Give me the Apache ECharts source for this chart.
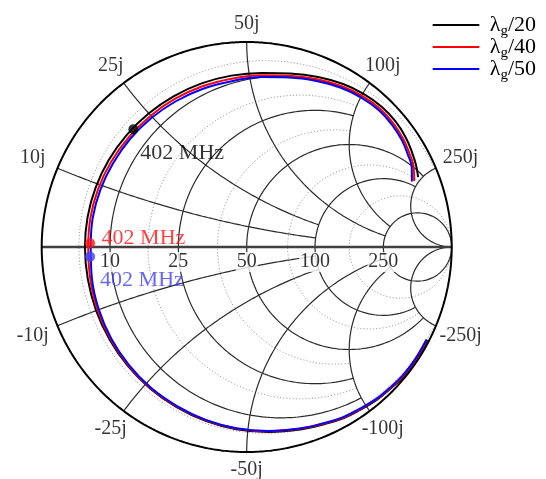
<!DOCTYPE html>
<html>
<head>
<meta charset="utf-8">
<script src="https://cdn.jsdelivr.net/npm/echarts@6/dist/echarts.min.js"></script>
<style>html,body{margin:0;padding:0;background:#fff}#c{width:546px;height:479px}</style>
</head>
<body>
<div id="c"></div>
<script>
// ---------------- data ----------------
const Z0 = 50; // ohm
const majorTicks = [0.2, 0.5, 1, 2, 5];                 // normalized (10, 25, 50, 100, 250 ohm)
const majorResLimit = [2, 2, 5, 5, Infinity];           // |x| where each r circle stops
const majorReactLimit = [2, 2, 5, 5, Infinity];         // r where each x arc stops
const minorRes = [0.1, 0.35, 0.75, 1.5, 3];
const minorResLimit = [5, 2, 2, 5, Infinity];
const realTickLabels = ['10', '25', '50', '100', '250'];
const imagTickLabelsPos = ['10j', '25j', '50j', '100j', '250j'];
const imagTickLabelsNeg = ['-10j', '-25j', '-50j', '-100j', '-250j'];
const seriesNames = ['λg/20', 'λg/40', 'λg/50'];

// reflection coefficient (Re, Im)
const g20Re = [0.882, 0.826, 0.764, 0.699, 0.634, 0.553, 0.471, 0.382, 0.260, 0.105, -0.050, -0.201, -0.342, -0.470, -0.580, -0.669, -0.735, -0.775, -0.789, -0.776, -0.737, -0.673, -0.587, -0.480, -0.357, -0.220, -0.075, 0.075, 0.211, 0.348, 0.470, 0.572, 0.660, 0.728, 0.777, 0.806, 0.826, 0.836];
const g20Im = [-0.454, -0.551, -0.633, -0.693, -0.746, -0.795, -0.836, -0.863, -0.890, -0.902, -0.889, -0.848, -0.781, -0.691, -0.580, -0.451, -0.309, -0.157, 0.000, 0.147, 0.290, 0.424, 0.545, 0.650, 0.735, 0.798, 0.836, 0.849, 0.846, 0.829, 0.795, 0.746, 0.683, 0.610, 0.532, 0.463, 0.400, 0.341];
const g40Re = [0.879, 0.824, 0.762, 0.697, 0.632, 0.551, 0.470, 0.381, 0.259, 0.105, -0.050, -0.200, -0.341, -0.469, -0.578, -0.665, -0.728, -0.763, -0.773, -0.762, -0.724, -0.661, -0.576, -0.471, -0.351, -0.216, -0.074, 0.074, 0.208, 0.343, 0.464, 0.565, 0.651, 0.717, 0.765, 0.794, 0.814, 0.817];
const g40Im = [-0.453, -0.549, -0.631, -0.691, -0.744, -0.793, -0.833, -0.860, -0.887, -0.899, -0.886, -0.845, -0.779, -0.689, -0.578, -0.448, -0.306, -0.155, 0.000, 0.144, 0.285, 0.416, 0.535, 0.638, 0.722, 0.784, 0.821, 0.838, 0.835, 0.818, 0.785, 0.736, 0.674, 0.601, 0.524, 0.456, 0.394, 0.322];
const g50Re = [0.877, 0.821, 0.759, 0.695, 0.630, 0.550, 0.468, 0.380, 0.258, 0.104, -0.050, -0.200, -0.340, -0.467, -0.575, -0.661, -0.722, -0.755, -0.761, -0.751, -0.713, -0.651, -0.568, -0.465, -0.346, -0.213, -0.073, 0.073, 0.206, 0.340, 0.459, 0.559, 0.645, 0.710, 0.758, 0.786, 0.805, 0.806];
const g50Im = [-0.451, -0.548, -0.629, -0.689, -0.742, -0.790, -0.831, -0.858, -0.885, -0.897, -0.884, -0.843, -0.776, -0.687, -0.575, -0.446, -0.303, -0.153, 0.000, 0.142, 0.281, 0.410, 0.528, 0.629, 0.711, 0.772, 0.809, 0.829, 0.827, 0.810, 0.777, 0.729, 0.667, 0.595, 0.519, 0.451, 0.390, 0.320];

// 402 MHz markers (Re, Im)
const markerRe = [-0.553, -0.764, -0.764];
const markerIm = [0.574, 0.018, -0.047];
const markerText = '402 MHz';

// ---------------- styling / geometry ----------------
const FONT = 'Liberation Serif';
const COLORS = ['#000000', '#ff0000', '#0000ff'];
const MARKER_COLORS = ['#000000', '#ff1414', '#4040ff'];
const GRID_COLOR = '#2a2a2a';

function gamma(r, x) {
  const den = (r + 1) * (r + 1) + x * x;
  return [(r * r + x * x - 1) / den, (2 * x) / den];
}
function resistanceCircle(r, xLim, n) {
  const c = r / (1 + r), rad = 1 / (1 + r);
  let p1 = 0;
  if (isFinite(xLim)) { const g = gamma(r, xLim); p1 = Math.atan2(g[1], g[0] - c); }
  const pts = [];
  for (let i = 0; i <= n; i++) {
    const p = p1 + (2 * Math.PI - 2 * p1) * i / n;
    pts.push([c + rad * Math.cos(p), rad * Math.sin(p)]);
  }
  return pts;
}
function reactanceArc(x, rLim, n) {
  const cy = 1 / x, rad = Math.abs(1 / x);
  const g0 = gamma(0, x);
  const g1 = isFinite(rLim) ? gamma(rLim, x) : [1, 0];
  const a0 = Math.atan2(g0[1] - cy, g0[0] - 1);
  const a1 = Math.atan2(g1[1] - cy, g1[0] - 1);
  let d = a1 - a0;
  while (d > Math.PI) d -= 2 * Math.PI;
  while (d <= -Math.PI) d += 2 * Math.PI;
  const pts = [];
  for (let i = 0; i <= n; i++) {
    const a = a0 + d * i / n;
    pts.push([1 + rad * Math.cos(a), cy + rad * Math.sin(a)]);
  }
  return pts;
}
function lineSeries(data, style, z) {
  return { type: 'line', data: data, showSymbol: false, symbol: 'none', silent: true, clip: false,
    lineStyle: style, z: z, animation: false };
}

const series = [];
// minor (dotted) resistance circles
minorRes.forEach((r, i) => series.push(lineSeries(resistanceCircle(r, minorResLimit[i], 300),
  { color: '#a0a0a0', width: 1, type: [1.2, 2] }, 1)));
// major resistance circles
majorTicks.forEach((r, i) => series.push(lineSeries(resistanceCircle(r, majorResLimit[i], 400),
  { color: GRID_COLOR, width: 1.2 }, 2)));
// major reactance arcs
majorTicks.forEach((x, i) => {
  series.push(lineSeries(reactanceArc(x, majorReactLimit[i], 300), { color: GRID_COLOR, width: 1.2 }, 2));
  series.push(lineSeries(reactanceArc(-x, majorReactLimit[i], 300), { color: GRID_COLOR, width: 1.2 }, 2));
});
// real axis and outer circle
series.push(lineSeries([[-1, 0], [1, 0]], { color: '#404040', width: 2.4 }, 3));
series.push(lineSeries(resistanceCircle(0, Infinity, 600), { color: '#000000', width: 2 }, 3));

// traces
const traces = [[g20Re, g20Im], [g40Re, g40Im], [g50Re, g50Im]];
traces.forEach((t, k) => {
  series.push({
    type: 'line', name: seriesNames[k], data: t[0].map((re, i) => [re, t[1][i]]),
    smooth: 0.4, symbol: 'none', showSymbol: false, clip: false, silent: true,
    lineStyle: { color: COLORS[k], width: 2 }, itemStyle: { color: COLORS[k] }, z: 5, animation: false
  });
});

// markers + annotations
const markerLabelCfg = [
  { distance: 2, offset: [0, 23.5] },
  { distance: 6.5, offset: [0, -5.5] },
  { distance: 5, offset: [0, 23.5] }
];
series.push({
  type: 'scatter', symbolSize: 10, clip: false, silent: true, z: 6, animation: false,
  data: markerRe.map((re, k) => ({
    value: [re, markerIm[k]],
    itemStyle: { color: MARKER_COLORS[k] },
    label: { show: true, position: 'right', formatter: markerText, distance: markerLabelCfg[k].distance,
      offset: markerLabelCfg[k].offset, color: MARKER_COLORS[k], fontFamily: FONT, fontSize: 22 }
  }))
});

// tick labels: reactance around the rim
const rimLabels = [];
majorTicks.forEach((x, i) => {
  [[x, imagTickLabelsPos[i]], [-x, imagTickLabelsNeg[i]]].forEach(([xv, txt]) => {
    const g = gamma(0, xv);
    const th = Math.atan2(g[1], g[0]);
    const D = 1.088 + 0.05 * Math.cos(th) * Math.cos(th);
    rimLabels.push([D * Math.cos(th), D * Math.sin(th), txt]);
  });
});
series.push({
  type: 'scatter', data: rimLabels, symbolSize: 1, itemStyle: { color: 'rgba(0,0,0,0)' },
  clip: false, silent: true, z: 7, animation: false,
  label: { show: true, position: 'inside', formatter: p => p.data[2], fontFamily: FONT, fontSize: 20, color: '#000' }
});
// tick labels: resistance along real axis
const realLabels = majorTicks.map((r, i) => [(r - 1) / (r + 1), -0.073, realTickLabels[i]]);
series.push({
  type: 'scatter', data: realLabels, symbolSize: 1, itemStyle: { color: 'rgba(0,0,0,0)' },
  clip: false, silent: true, z: 7, animation: false,
  label: { show: true, position: 'inside', formatter: p => p.data[2], fontFamily: FONT, fontSize: 20, color: '#000',
    backgroundColor: '#ffffff', padding: [0, 1] }
});

// legend (drawn with graphic elements so that the "g" can be a true subscript)
const measureCtx = document.createElement('canvas').getContext('2d');
function textWidth(t, size) { measureCtx.font = size + 'px "' + FONT + '"'; return measureCtx.measureText(t).width; }
const legendGraphic = [];
const LEG_X = 432.7, LEG_LINE = 46.6, LEG_Y0 = 25, LEG_DY = 22, LEG_TEXT_GAP = 10.5;
seriesNames.forEach((name, k) => {
  const y = LEG_Y0 + LEG_DY * k;
  const main = name.charAt(0), sub = name.charAt(1), rest = name.slice(2);
  let x = LEG_X + LEG_LINE + LEG_TEXT_GAP;
  legendGraphic.push({ type: 'line', silent: true, shape: { x1: LEG_X, y1: y, x2: LEG_X + LEG_LINE, y2: y },
    style: { stroke: COLORS[k], lineWidth: 2 } });
  legendGraphic.push({ type: 'text', silent: true, x: x, y: y,
    style: { text: main, font: '22px "' + FONT + '"', fill: '#000', verticalAlign: 'middle', align: 'left' } });
  x += textWidth(main, 22);
  legendGraphic.push({ type: 'text', silent: true, x: x, y: y + 6.5,
    style: { text: sub, font: '15px "' + FONT + '"', fill: '#000', verticalAlign: 'middle', align: 'left' } });
  x += textWidth(sub, 15);
  legendGraphic.push({ type: 'text', silent: true, x: x, y: y,
    style: { text: rest, font: '22px "' + FONT + '"', fill: '#000', verticalAlign: 'middle', align: 'left' } });
});

const chart = echarts.init(document.getElementById('c'));
chart.setOption({
  animation: false,
  backgroundColor: '#ffffff',
  grid: { left: 41.7, top: 42, width: 410, height: 410 },
  xAxis: { type: 'value', min: -1, max: 1, show: false },
  yAxis: { type: 'value', min: -1, max: 1, show: false },
  graphic: legendGraphic,
  series: series
});
</script>
</body>
</html>
